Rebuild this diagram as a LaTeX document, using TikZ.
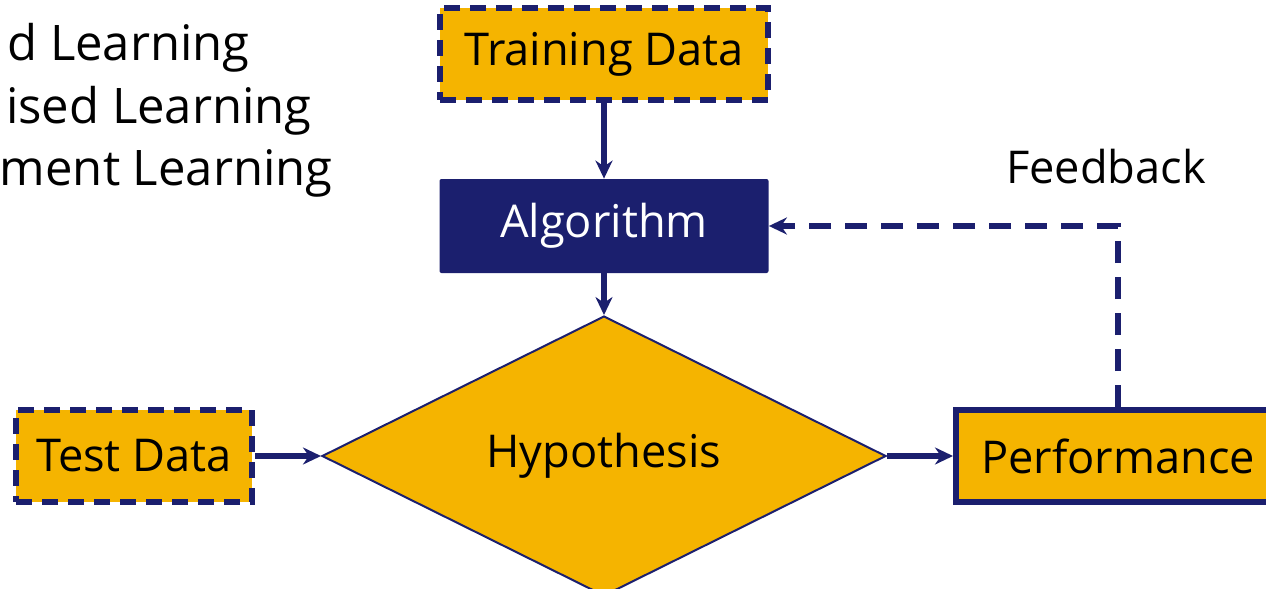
\documentclass[tikz,border=0pt]{standalone}
\usepackage{fontspec}
\setmainfont{Open Sans}
\usetikzlibrary{arrows.meta,shapes.geometric}

\definecolor{navy}{RGB}{27,31,110}
\definecolor{gold}{RGB}{245,180,0}

\tikzset{
  databox/.style={draw=navy,fill=gold,line width=3pt,dash pattern=on 8pt off 5pt,
                  minimum height=46pt,inner sep=0pt},
  perfbox/.style={draw=navy,fill=gold,line width=3pt,minimum height=46pt,inner sep=0pt},
  algobox/.style={fill=navy,text=white,rounded corners=1pt,minimum width=164.5pt,
                  minimum height=47pt,inner sep=0pt},
  hypo/.style={diamond,draw=navy,fill=gold,line width=1pt,minimum width=282pt,
               minimum height=134pt,inner sep=0pt},
  link/.style={draw=navy,line width=2.8pt,-{Stealth[length=9pt,width=8.5pt]}},
  fbline/.style={draw=navy,line width=2.8pt,dash pattern=on 11pt off 7pt,
                 -{Stealth[length=9pt,width=8.5pt]}},
  lbl/.style={inner sep=0pt}
}

\begin{document}
\begin{tikzpicture}[x=0.5pt,y=-0.5pt,every node/.style={font=\fontsize{22.6}{27}\selectfont}]

        \useasboundingbox (0,0) rectangle (1266,589);
        \clip (0,0) rectangle (1266,589);

        % learning kinds, cut at the left edge
        \node[lbl,anchor=base east,font=\fontsize{24.5}{29}\selectfont] (sup)   at (250,61)  {d Learning};
        \node[lbl,anchor=base east,font=\fontsize{24.5}{29}\selectfont] (unsup) at (312,123) {ised Learning};
        \node[lbl,anchor=base east,font=\fontsize{24.5}{29}\selectfont] (reinf) at (333,185) {ment Learning};

        \node[databox,minimum width=164pt] (train) at (604,54)  {Training Data};
        \node[algobox]                     (algo)  at (604,226) {Algorithm};
        \node[hypo]                        (hyp)   at (604,456) {Hypothesis};
        \node[databox,minimum width=118pt] (test)  at (134,456) {Test Data};
        \node[perfbox,minimum width=162pt] (perf)  at (1118,456) {Performance};
        \node                              (fb)    at (1106,167) {Feedback};

        \path   (train) edge[link] (algo)
                (algo)  edge[link] (hyp)
                (test)  edge[link] (hyp)
                (hyp)   edge[link] (perf);

        \draw[fbline] (perf.north) |- (algo.east);

\end{tikzpicture}
\end{document}
